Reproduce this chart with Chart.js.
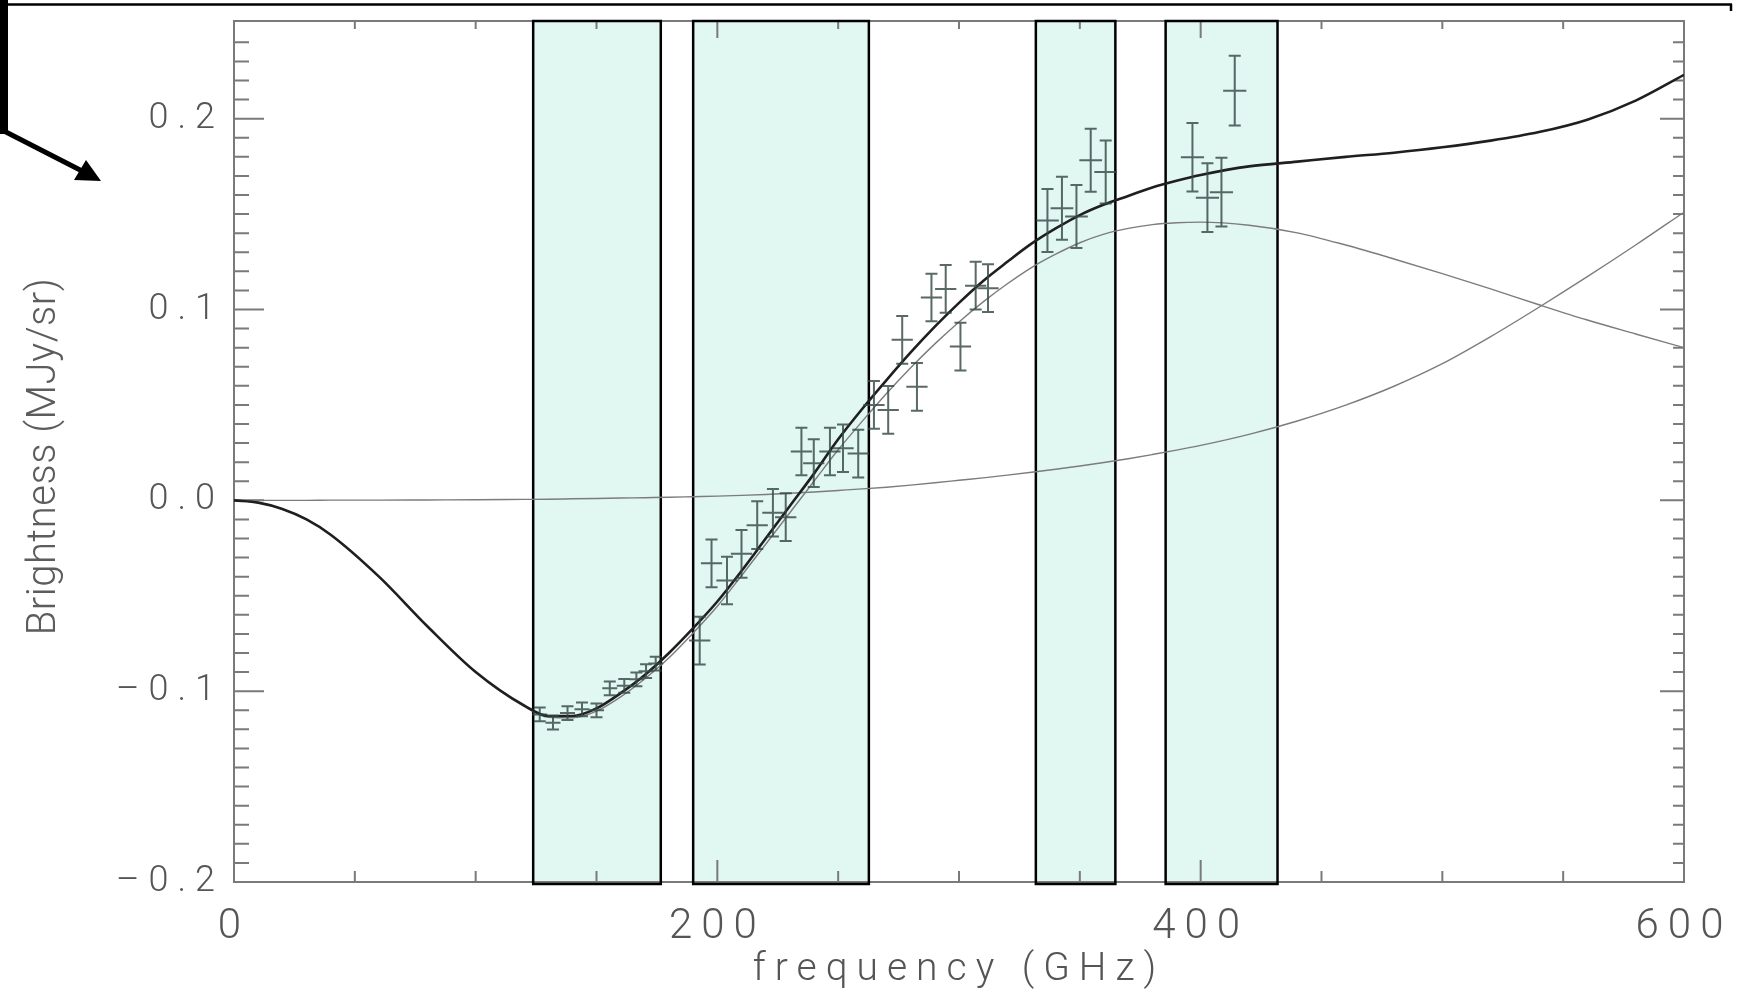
<!DOCTYPE html>
<html>
<head>
<meta charset="utf-8">
<script src="https://cdn.jsdelivr.net/npm/chart.js@4.4.1/dist/chart.umd.min.js"></script>
<style>
  html, body { margin: 0; padding: 0; background: #fff; }
  #wrap { position: relative; width: 1740px; height: 990px; }
  #deco { position: absolute; left: 0; top: 0; pointer-events: none; }
</style>
</head>
<body>
<div id="wrap">
  <canvas id="sz" width="1740" height="990"></canvas>
  <!-- pointer annotation round the top-left corner -->
  <svg id="deco" width="1740" height="990">
    <line x1="0" y1="4.5" x2="1732" y2="4.5" stroke="#000" stroke-width="2.5"/>
    <line x1="1731" y1="4" x2="1731" y2="11" stroke="#000" stroke-width="2.5"/>
    <rect x="0" y="0" width="8" height="134" fill="#000"/>
    <line x1="4" y1="131" x2="84" y2="172" stroke="#000" stroke-width="5"/>
    <polygon points="101,181 74,180 86,160" fill="#000"/>
  </svg>
</div>
<script>
/* ---- fitted curves (GHz / MJy sr^-1) ---- */
const curveFreq = [0, 10, 20, 30, 40, 60, 80, 100, 120, 130, 140, 150, 160, 170, 180, 190, 200,
  210, 220, 230, 240, 250, 260, 270, 280, 290, 300, 310, 320, 330, 340, 350, 360, 370,
  380, 390, 400, 420, 440, 460, 480, 500, 520, 540, 560, 580, 600];
const totalFit = [0, -0.0012, -0.0045, -0.010, -0.018, -0.040, -0.066, -0.090, -0.1075, -0.1130, -0.1130,
  -0.1090, -0.1010, -0.0915, -0.0800, -0.0670, -0.0530, -0.0370, -0.0200, -0.0030, 0.0140,
  0.0320, 0.0480, 0.0630, 0.0775, 0.0910, 0.1035, 0.1150, 0.1250, 0.1345, 0.1425, 0.1495,
  0.1550, 0.1595, 0.1640, 0.1675, 0.1705, 0.1750, 0.1775, 0.1800, 0.1822, 0.1850, 0.1885,
  0.1930, 0.1995, 0.2095, 0.2230];
const szComponent = [0, -0.0012, -0.0045, -0.010, -0.018, -0.040, -0.066, -0.090, -0.1080, -0.1137, -0.1140,
  -0.1105, -0.1030, -0.0935, -0.0825, -0.0695, -0.0555, -0.0395, -0.0230, -0.0065, 0.0100,
  0.0265, 0.0415, 0.0560, 0.0695, 0.0820, 0.0935, 0.1040, 0.1135, 0.1220, 0.1290, 0.1350,
  0.1395, 0.1425, 0.1445, 0.1455, 0.1458, 0.1442, 0.1402, 0.1338, 0.1265, 0.1188, 0.1108,
  0.1025, 0.0945, 0.0872, 0.0800];
const dustComponent = [0, 0, 0, 0, 0.0001, 0.0001, 0.0002, 0.0003, 0.0005, 0.0006, 0.0008, 0.0010,
  0.0012, 0.0014, 0.0016, 0.0019, 0.0022, 0.0026, 0.0031, 0.0037, 0.0044, 0.0052, 0.0060,
  0.0069, 0.0080, 0.0092, 0.0105, 0.0118, 0.0132, 0.0147, 0.0163, 0.0180, 0.0198, 0.0218,
  0.0240, 0.0263, 0.0288, 0.0346, 0.0416, 0.0499, 0.0598, 0.0716, 0.0858, 0.1012, 0.1172,
  0.1338, 0.1510];

/* ---- measured points with errors ---- */
const obsFreq = [126.5, 132, 138, 144, 150, 155.5, 161.5, 166.5, 170.5, 174.5,
  192.7, 197.6, 204, 210, 216.5, 223, 228.3, 234.8, 239.9, 246.6, 252, 258.3,
  264.8, 270.7, 276.5, 282.6, 288.6, 294.5, 300.6, 306.9, 312,
  336.6, 342.6, 348.6, 354.5, 360.7,
  396.6, 402.8, 408.6, 414.1];
const obsBright = [-0.1122, -0.1165, -0.1115, -0.1095, -0.1100, -0.0985, -0.0972, -0.0938, -0.0895, -0.0855,
  -0.0735, -0.0330, -0.0420, -0.0280, -0.0130, -0.0065, -0.0088, 0.0256, 0.0195, 0.0256, 0.0273, 0.0245,
  0.0500, 0.0474, 0.0841, 0.0595, 0.1063, 0.1108, 0.0806, 0.1125, 0.1112,
  0.1466, 0.1531, 0.1487, 0.1782, 0.1721,
  0.1798, 0.1586, 0.1615, 0.2147];
const obsErr = [0.0036, 0.0036, 0.0036, 0.0036, 0.0036, 0.0036, 0.0036, 0.0036, 0.0036, 0.0036,
  0.0125, 0.0125, 0.0125, 0.0125, 0.0125, 0.0125, 0.0125, 0.0125, 0.0125, 0.0125, 0.0125, 0.0125,
  0.0125, 0.0125, 0.0125, 0.0125, 0.0125, 0.0125, 0.0125, 0.0125, 0.0125,
  0.0165, 0.0165, 0.0165, 0.0165, 0.0165,
  0.0180, 0.0180, 0.0180, 0.0183];
const obsFreqErr = [3.1, 3.1, 3.1, 3.1, 3.1, 3.1, 3.1, 3.1, 3.1, 3.1,
  4.4, 4.4, 4.4, 4.4, 4.4, 4.4, 4.4, 4.4, 4.4, 4.4, 4.4, 4.4,
  4.4, 4.4, 4.4, 4.4, 4.4, 4.4, 4.4, 4.4, 4.4,
  4.7, 4.7, 4.7, 4.7, 4.7,
  4.8, 4.8, 4.8, 4.8];

/* ---- observing bands ---- */
const bandLo = [123.8, 190.0, 331.8, 385.5];
const bandHi = [176.6, 262.7, 364.7, 431.8];

const xMajorTicks = [0, 200, 400, 600];
const yMajorTicks = [-0.2, -0.1, 0.0, 0.1, 0.2];
const xTitle = "frequency (GHz)";
const yTitle = "Brightness (MJy/sr)";

const toXY = (xs, ys) => xs.map((v, i) => ({ x: v, y: ys[i] }));

// bands, IDL-style frame with inward ticks, error bars, rotated y title
const idlFrame = {
  id: "idlFrame",
  beforeDraw(chart) { chart.ctx.letterSpacing = "9px"; },
  beforeDatasetsDraw(chart) {
    const { ctx, chartArea: a, scales: { x, y } } = chart;
    ctx.save();
    ctx.letterSpacing = "0px";
    ctx.fillStyle = "#e1f7f2";
    bandLo.forEach((lo, i) => {
      const x0 = x.getPixelForValue(lo), x1 = x.getPixelForValue(bandHi[i]);
      ctx.fillRect(x0, a.top, x1 - x0, a.bottom - a.top);
    });

    ctx.strokeStyle = "#7a7a7a";
    ctx.lineWidth = 2;
    ctx.strokeRect(a.left, a.top, a.right - a.left, a.bottom - a.top);

    ctx.beginPath();
    for (let v = 0; v <= 600; v += 50) {
      const px = x.getPixelForValue(v);
      const major = xMajorTicks.includes(v);
      ctx.moveTo(px, a.bottom); ctx.lineTo(px, a.bottom - (major ? 22 : 11));
      ctx.moveTo(px, a.top); ctx.lineTo(px, a.top + (major ? 17 : 8));
    }
    for (let k = -20; k <= 24; k++) {
      const py = y.getPixelForValue(k / 100);
      const major = k % 10 === 0;
      ctx.moveTo(a.left, py); ctx.lineTo(a.left + (major ? 30 : 15), py);
      ctx.moveTo(a.right, py); ctx.lineTo(a.right - (major ? 24 : 11), py);
    }
    ctx.stroke();

    ctx.strokeStyle = "#000";
    ctx.lineWidth = 2.5;
    bandLo.forEach((lo, i) => {
      const x0 = x.getPixelForValue(lo), x1 = x.getPixelForValue(bandHi[i]);
      ctx.strokeRect(x0, a.top, x1 - x0, a.bottom - a.top + 2);
    });
    ctx.restore();
  },
  afterDatasetsDraw(chart) {
    const { ctx, scales: { x, y } } = chart;
    ctx.save();
    ctx.strokeStyle = "rgba(52,72,68,0.82)";
    ctx.lineWidth = 2;
    ctx.beginPath();
    obsFreq.forEach((f, i) => {
      const px = x.getPixelForValue(f), py = y.getPixelForValue(obsBright[i]);
      const xl = x.getPixelForValue(f - obsFreqErr[i]), xr = x.getPixelForValue(f + obsFreqErr[i]);
      const yt = y.getPixelForValue(obsBright[i] + obsErr[i]);
      const yb = y.getPixelForValue(obsBright[i] - obsErr[i]);
      ctx.moveTo(xl, py); ctx.lineTo(xr, py);
      ctx.moveTo(px, yt); ctx.lineTo(px, yb);
      ctx.moveTo(px - 6, yt); ctx.lineTo(px + 6, yt);
      ctx.moveTo(px - 6, yb); ctx.lineTo(px + 6, yb);
    });
    ctx.stroke();
    ctx.restore();
  },
  afterDraw(chart) {
    const { ctx, chartArea: a, scales: { y } } = chart;
    ctx.save();
    ctx.letterSpacing = "0.5px";
    ctx.translate(y.left + 45, (a.top + a.bottom) / 2 + 5);
    ctx.rotate(-Math.PI / 2);
    ctx.font = "300 40px Roboto, 'DejaVu Sans', sans-serif";
    ctx.fillStyle = "#5c5c5c";
    ctx.textAlign = "center";
    ctx.textBaseline = "middle";
    ctx.fillText(yTitle, 0, 0);
    ctx.restore();
    ctx.letterSpacing = "0px";
  },
};

const labelFont = (size, lineHeight = 1.2) => ({ family: "Roboto, 'DejaVu Sans', sans-serif", size, weight: 300, lineHeight });

new Chart(document.getElementById("sz"), {
  type: "scatter",
  data: {
    datasets: [
      { label: "total", data: toXY(curveFreq, totalFit), showLine: true, borderColor: "#1f1f1f",
        borderWidth: 2.6, pointRadius: 0, cubicInterpolationMode: "monotone" },
      { label: "SZ", data: toXY(curveFreq, szComponent), showLine: true, borderColor: "#7c7c7c",
        borderWidth: 1.4, pointRadius: 0, cubicInterpolationMode: "monotone" },
      { label: "dust", data: toXY(curveFreq, dustComponent), showLine: true, borderColor: "#7c7c7c",
        borderWidth: 1.4, pointRadius: 0, cubicInterpolationMode: "monotone" },
      { label: "data", data: toXY(obsFreq, obsBright), pointRadius: 0 },
    ],
  },
  options: {
    responsive: false,
    devicePixelRatio: 1,
    animation: false,
    layout: { padding: { top: 21, right: 56, left: 0, bottom: 0 } },
    plugins: { legend: { display: false }, tooltip: { enabled: false } },
    scales: {
      x: {
        type: "linear", min: 0, max: 600,
        grid: { display: false, drawTicks: false },
        border: { display: false },
        afterBuildTicks: (s) => { s.ticks = xMajorTicks.map((v) => ({ value: v })); },
        afterFit: (s) => { s.height = 108; s.paddingLeft = 0; s.paddingRight = 0; },
        ticks: { color: "#555", font: labelFont(42), padding: 20, maxRotation: 0, autoSkip: false,
          callback: (v) => String(v) },
        title: { display: true, text: xTitle, color: "#555", font: labelFont(39, 1.0), padding: 0 },
      },
      y: {
        type: "linear", min: -0.2, max: 0.2512,
        grid: { display: false, drawTicks: false },
        border: { display: false },
        afterBuildTicks: (s) => { s.ticks = yMajorTicks.map((v) => ({ value: v })); },
        afterFit: (s) => { s.width = 234; s.paddingTop = 0; s.paddingBottom = 0; },
        ticks: { color: "#555", font: labelFont(36), padding: 10,
          callback: (v) => v.toFixed(1).replace("-", "\u2013") },
      },
    },
  },
  plugins: [idlFrame],
});
</script>
</body>
</html>
